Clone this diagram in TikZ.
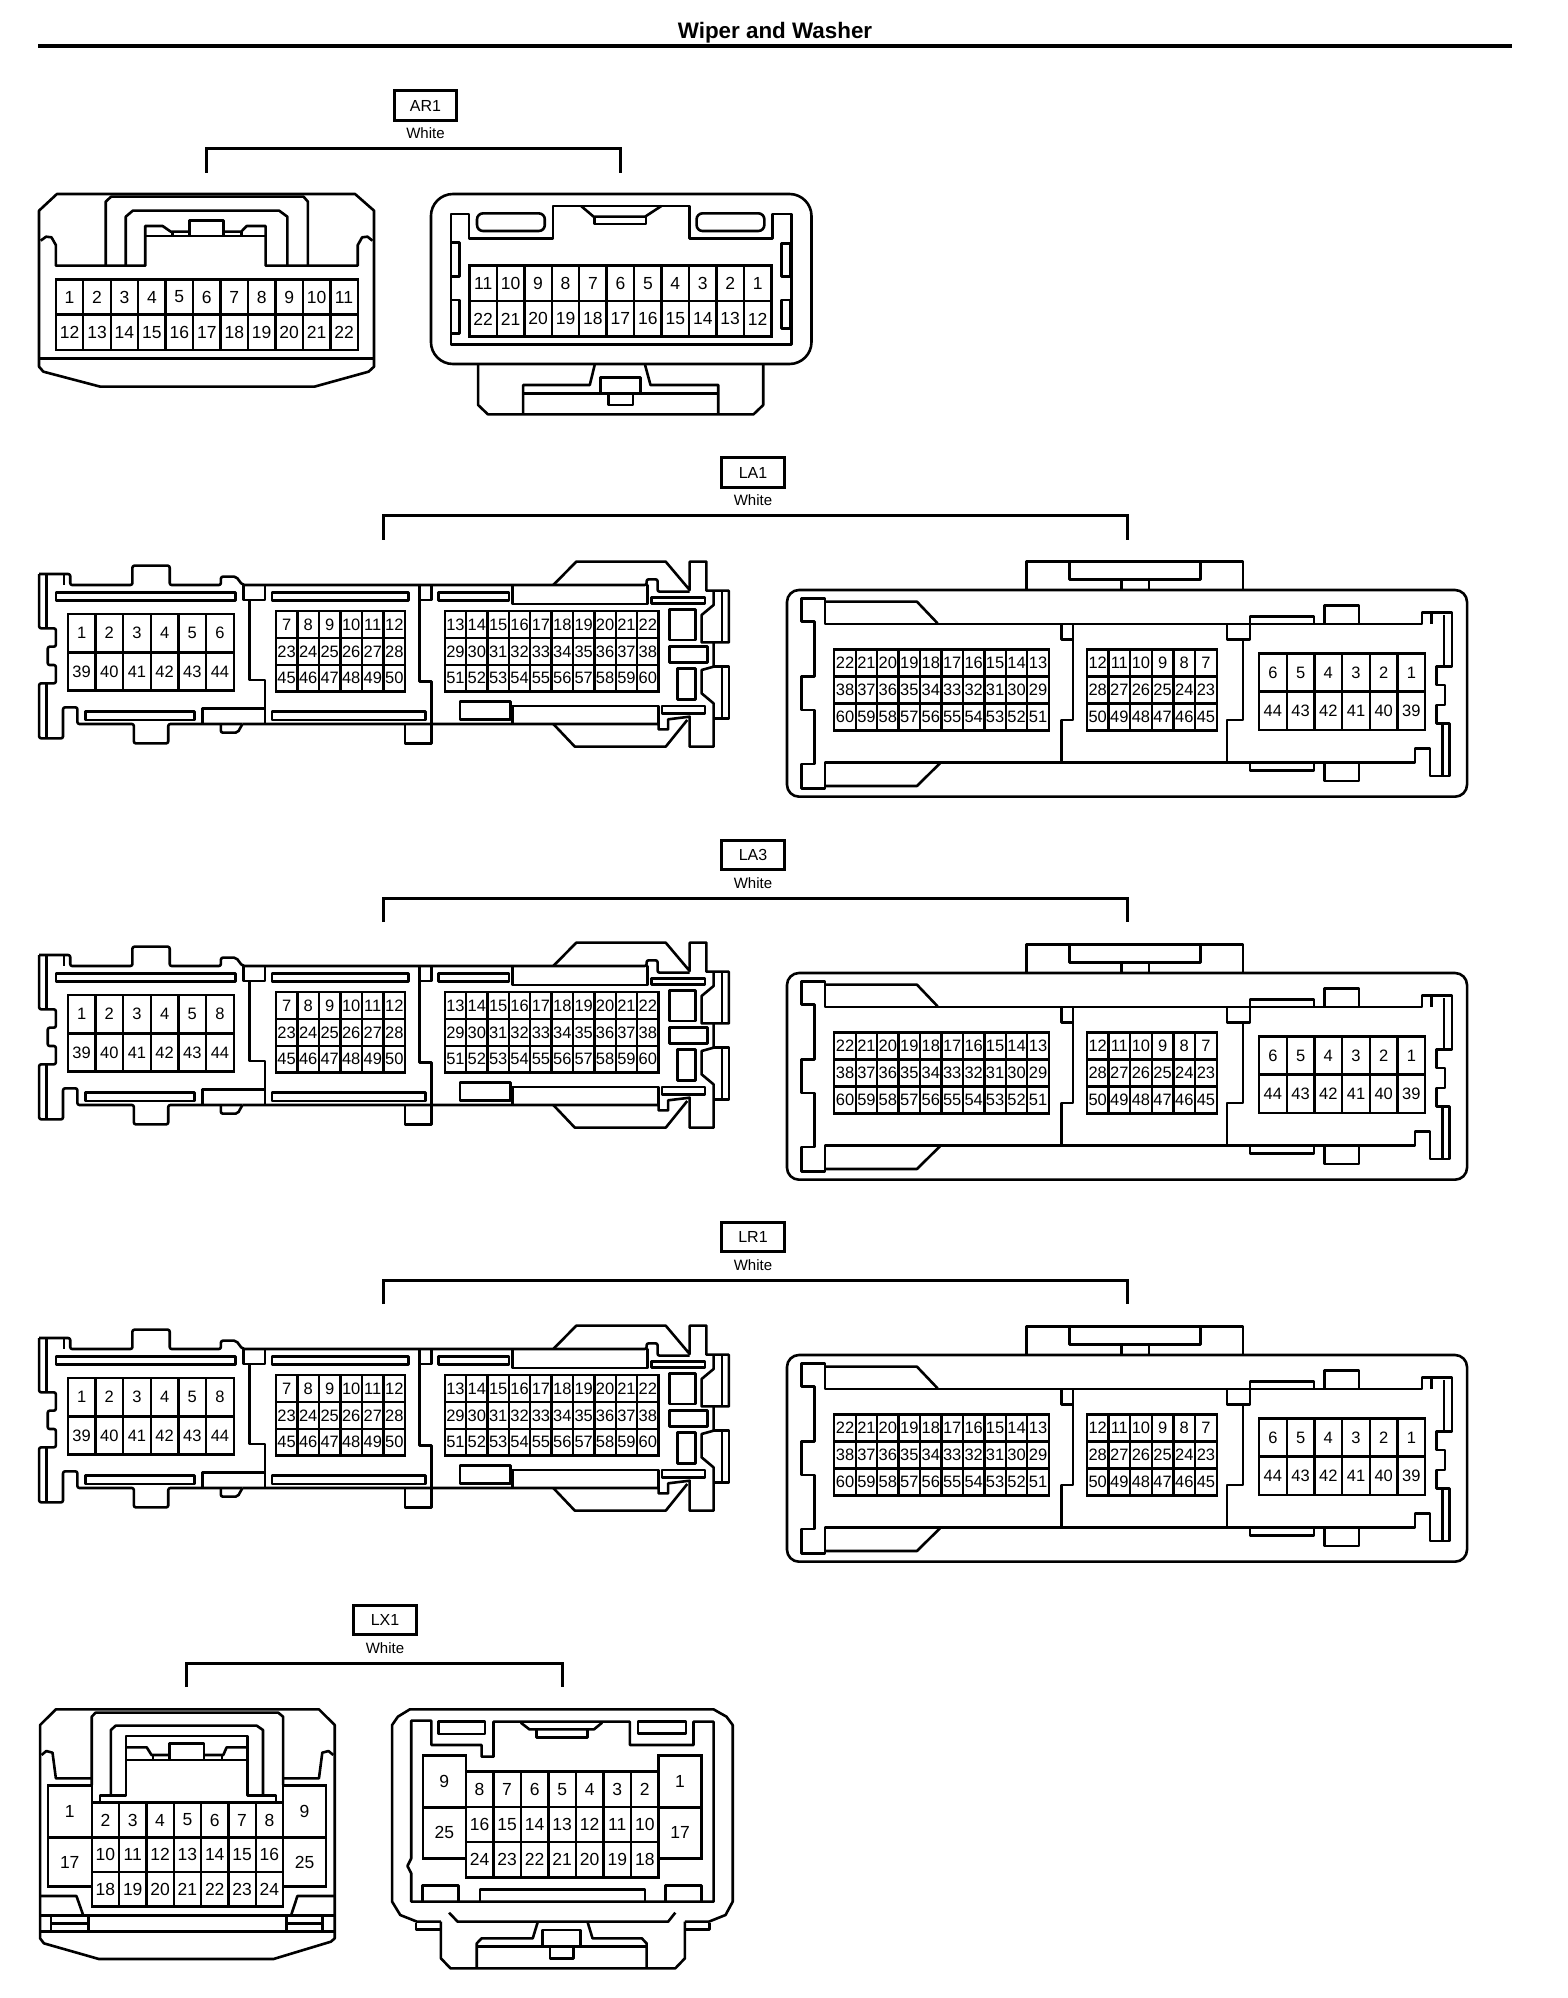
\documentclass[tikz,border=0pt]{standalone}
\usepackage{fontspec}
\setmainfont{Liberation Sans}
\tikzset{
  wire/.style={line width=2.6pt,line join=round,black},
  gridline/.style={line width=2.4pt,black},
  pinlabel/.style={inner sep=0pt,font=\fontsize{\pinsize}{\pinsize}\selectfont},
  tagbox/.style={draw,line width=2.6pt,minimum width=62.5pt,minimum height=29.5pt,inner sep=0pt,font=\fontsize{16}{16}\selectfont},
  tagtext/.style={inner sep=0pt,font=\fontsize{15}{15}\selectfont},
  bracket/.style={line width=3pt,line join=miter,black},
  zoneA/.style={x=0.54209pt,y=-0.33333pt},
  zoneB/.style={x=0.47832pt,y=-0.33333pt},
  zoneC/.style={x=0.45918pt,y=-0.33333pt},
}
\def\pinsize{16.5}
% grid: prefix, x0,y0,x1,y1, cols, rows, labels
\newcommand{\pingrid}[8]{%
  \draw[gridline] (#2,#3) rectangle (#4,#5);
  \pgfmathtruncatemacro\gridm{#6-1}
  \pgfmathtruncatemacro\gridn{#7-1}
  \foreach \gk in {1,...,\gridm}{
    \pgfmathsetmacro\gx{#2+\gk*(#4-#2)/#6}
    \draw[gridline] (\gx,#3) -- (\gx,#5);
  }
  \foreach \gk in {1,...,\gridn}{
    \pgfmathsetmacro\gy{#3+\gk*(#5-#3)/#7}
    \draw[gridline] (#2,\gy) -- (#4,\gy);
  }
  \foreach \lbl [count=\idx from 0] in {#8}{
    \pgfmathtruncatemacro\pc{mod(\idx,#6)}
    \pgfmathtruncatemacro\pr{int(\idx/#6)}
    \pgfmathsetmacro\cx{#2+(\pc+0.5)*(#4-#2)/#6}
    \pgfmathsetmacro\cy{#3+(\pr+0.5)*(#5-#3)/#7}
    \node[pinlabel] (#1-\lbl) at (\cx,\cy) {\lbl};
  }
}
\newcommand{\pincell}[6]{%
  \draw[gridline] (#2,#3) rectangle (#4,#5);
  \node[pinlabel] (#1-#6) at ({(#2+#4)/2},{(#3+#5)/2}) {#6};
}
% header: name, cx, cy, xl, xr
\newcommand{\header}[5]{%
  \node[tagbox] (#1-tag) at (#2,#3) {#1};
  \node[tagtext] (#1-col) at (#2,#3+28) {White};
  \coordinate (#1-a) at (#4,#3+67);
  \coordinate (#1-b) at (#4,#3+43);
  \coordinate (#1-c) at (#5,#3+43);
  \coordinate (#1-d) at (#5,#3+67);
  \draw[bracket] (#1-a) -- (#1-b) -- (#1-c) -- (#1-d);
}
% long connector, mating face: prefix, y offset, label of sixth pin
\newcommand{\longleft}[3]{%
\begin{scope}[zoneB,xshift=20pt,yshift=-450pt-#2pt]
\draw[wire,rounded corners=2pt] (40,372)--(105,372)--(105,405)--(235,405)--(235,347)--(313,347)--(313,405)--(420,405)--(420,380)--(452,380)--(465,405)--(1310,405)--(1310,388)--(1333,388)--(1333,425)--(1400,425);
\draw[wire] (1115,405)--(1163,335)--(1350,335)--(1400,420)--(1400,335)--(1435,335)--(1435,422)--(1482,422)--(1482,577)--(1425,577)--(1425,495)--(1450,465)--(1450,425);
\draw[wire] (1450,577)--(1450,650)--(1425,660)--(1425,730)--(1450,760)--(1450,890)--(1400,890)--(1400,800)--(1355,808)--(1355,838)--(1335,838)--(1335,822)--(465,822);
\draw[wire] (1115,822)--(1160,890)--(1350,890)--(1395,810);
\draw[wire] (1450,650)--(1482,650)--(1482,805)--(1450,805);
\draw[wire] (1468,425)--(1468,577) (1468,650)--(1468,805);
\draw[wire] (805,822)--(805,880)--(860,880)--(860,695)--(835,695)--(835,405);
\draw[wire] (860,405)--(860,450)--(835,450);
\draw[wire,rounded corners=2pt] (465,822)--(310,822)--(310,880)--(238,880)--(238,822)--(120,822)--(120,772)--(90,772)--(90,865)--(40,865)--(40,700)--(75,700)--(75,645)--(58,645)--(58,590)--(75,590)--(75,535)--(40,535)--(40,372);
\draw[wire] (55,372)--(55,535) (55,700)--(55,865) (92,372)--(92,405);
\draw[wire,rounded corners=2pt] (420,822)--(420,848)--(455,848)--(465,822);
\draw[wire] (480,450)--(480,690)--(512,690)--(512,822);
\draw[wire] (467,405)--(467,450)--(512,450)--(512,405);
\draw[wire] (75,427) rectangle (450,452);
\draw[wire] (527,427) rectangle (812,452);
\draw[wire] (875,427) rectangle (1022,452);
\draw[wire] (1030,405) rectangle (1312,462);
\draw[wire] (1320,442) rectangle (1432,460);
\draw[wire] (137,785) rectangle (365,810);
\draw[wire] (527,785) rectangle (848,810);
\draw[wire] (920,755) rectangle (1025,808);
\draw[wire] (1030,768) rectangle (1335,822);
\draw[wire] (1342,768) rectangle (1432,790);
\draw[wire] (382,822)--(382,775)--(512,775);
\draw[wire] (1358,478) rectangle (1412,570);
\draw[wire] (1358,590) rectangle (1437,637);
\draw[wire] (1375,655) rectangle (1412,748);
\pingrid{#1La}{100}{492}{447}{722}{6}{2}{1,2,3,4,5,#3,39,40,41,42,43,44}
\pingrid{#1Lb}{535}{483}{805}{725}{6}{3}{7,8,9,10,11,12,23,24,25,26,27,28,45,46,47,48,49,50}
\pingrid{#1Lc}{888}{483}{1335}{725}{10}{3}{13,14,15,16,17,18,19,20,21,22,29,30,31,32,33,34,35,36,37,38,51,52,53,54,55,56,57,58,59,60}
\end{scope}
}
\newcommand{\longright}[2]{%
\begin{scope}[zoneC,xshift=770pt,yshift=-540pt-#2pt]
\draw[wire,rounded corners=12pt] (37,150) rectangle (1518,770);
\draw[wire] (558,150)--(558,65)--(1030,65)--(1030,150);
\draw[wire] (652,65)--(652,118)--(938,118)--(938,65);
\draw[wire] (765,118)--(765,150) (825,118)--(825,150);
\draw[wire] (68,175)--(120,175)--(120,252)--(1420,252)--(1420,218)--(1485,218)--(1485,380)--(1452,380)--(1452,435)--(1470,435)--(1470,495)--(1452,495)--(1452,550)--(1480,550)--(1480,708)--(1437,708)--(1437,625)--(1405,625)--(1405,668)--(120,668)--(120,745)--(68,745)--(68,672)--(97,672)--(97,510)--(68,510)--(68,410)--(97,410)--(97,245)--(68,245)--cycle;
\draw[wire] (120,185)--(320,185)--(365,250) (120,738)--(320,738)--(370,670);
\draw[wire] (660,252)--(660,540)--(635,540)--(635,668);
\draw[wire] (635,252)--(635,298)--(660,298);
\draw[wire] (1030,298)--(1030,540)--(995,540)--(995,668);
\draw[wire] (995,252)--(995,298)--(1045,298)--(1045,230)--(1185,230)--(1185,252);
\draw[wire] (1208,252)--(1208,197)--(1283,197)--(1283,252);
\draw[wire] (1045,668)--(1045,692)--(1185,692)--(1185,668);
\draw[wire] (1208,668)--(1208,723)--(1283,723)--(1283,668);
\draw[wire] (1468,225)--(1468,380) (1465,550)--(1465,708) (1440,218)--(1440,252);
\pingrid{#1Ra}{140}{328}{607}{572}{10}{3}{22,21,20,19,18,17,16,15,14,13,38,37,36,35,34,33,32,31,30,29,60,59,58,57,56,55,54,53,52,51}
\pingrid{#1Rb}{690}{328}{973}{572}{6}{3}{12,11,10,9,8,7,28,27,26,25,24,23,50,49,48,47,46,45}
\pingrid{#1Rc}{1065}{340}{1427}{570}{6}{2}{6,5,4,3,2,1,44,43,42,41,40,39}
\end{scope}
}
\begin{document}
\begin{tikzpicture}[x=1pt,y=-1pt]
\useasboundingbox (0,0) rectangle (1568,1998);
\fill[white] (0,0) rectangle (1568,1998);
\node[inner sep=0pt,font=\bfseries\fontsize{22.4}{22.4}\selectfont] (title) at (775,32.5) {Wiper and Washer};
\coordinate (ruleL) at (38,46);
\coordinate (ruleR) at (1512,46);
\draw[line width=4.3pt] (ruleL) -- (ruleR);
%
\header{AR1}{425.5}{105.5}{206}{620}
\header{LA1}{753}{472.5}{383}{1127}
\header{LA3}{753}{855}{383}{1127}
\header{LR1}{753}{1237}{383}{1127}
\header{LX1}{385}{1620}{186.5}{562}
%
\def\pinsize{17.5}
\begin{scope}[zoneA]
\draw[wire] (105,582)--(655,582)--(690,632)--(690,1100)--(680,1115)--(580,1160)--(185,1160)--(80,1115)--(72,1100)--(72,632)--cycle;
\draw[wire] (72,1075)--(690,1075);
\draw[wire] (75,722)--(85,710)--(95,712)--(103,735)--(103,797)--(268,797)--(268,678)--(300,678)--(315,695)--(350,695);
\draw[wire] (268,708)--(490,708);
\draw[wire] (350,708)--(350,662)--(412,662)--(412,708);
\draw[wire] (412,695)--(445,695)--(455,678)--(490,678)--(490,797)--(660,797)--(660,735)--(668,712)--(678,710)--(687,722);
\draw[wire] (318,695)--(318,708) (445,695)--(445,708);
\draw[wire] (195,797)--(195,605)--(205,590)--(560,590)--(568,605)--(568,797);
\draw[wire] (232,797)--(232,650)--(245,632)--(515,632)--(530,650)--(530,797);
\pingrid{AR1La}{103}{838}{660}{1050}{11}{2}{1,2,3,4,5,6,7,8,9,10,11,12,13,14,15,16,17,18,19,20,21,22}
%
\draw[wire,rounded corners=22pt] (795,582) rectangle (1497,1092);
\draw[wire] (832,642)--(865,642)--(865,715)--(1020,715)--(1020,618)--(1272,618)--(1272,715)--(1425,715)--(1425,642)--(1460,642)--(1460,1033)--(832,1033)--cycle;
\draw[wire,rounded corners=6pt] (880,640) rectangle (1005,693);
\draw[wire,rounded corners=6pt] (1285,640) rectangle (1410,693);
\draw[wire] (1072,618)--(1095,650)--(1190,650)--(1220,618);
\draw[wire] (1097,650)--(1097,672)--(1192,672)--(1192,650);
\draw[wire] (832,728) rectangle (848,830);
\draw[wire] (832,900) rectangle (848,1000);
\draw[wire] (1442,730) rectangle (1458,830);
\draw[wire] (1442,900) rectangle (1458,985);
\pingrid{AR1Ra}{866}{797}{1423}{1010}{11}{2}{11,10,9,8,7,6,5,4,3,2,1,22,21,20,19,18,17,16,15,14,13,12}
\draw[wire] (882,1092)--(882,1215)--(900,1243)--(1390,1243)--(1408,1215)--(1408,1092);
\draw[wire] (1097,1095)--(1088,1155)--(965,1155)--(965,1243);
\draw[wire] (965,1180)--(1325,1180);
\draw[wire] (1190,1095)--(1200,1155)--(1325,1155)--(1325,1243);
\draw[wire] (1108,1132) rectangle (1182,1180);
\draw[wire] (1122,1180)--(1122,1215)--(1168,1215)--(1168,1180);
\end{scope}
%
\def\pinsize{16.5}
\longleft{LA1}{0}{6}
\longright{LA1}{0}
\longleft{LA3}{381}{8}
\longright{LA3}{383}
\longleft{LR1}{764}{8}
\longright{LR1}{765}
%
\def\pinsize{17.5}
\begin{scope}[zoneB,xshift=20pt,yshift=-1610pt]
\draw[wire] (75,298)--(625,298)--(658,345)--(658,985)--(650,995)--(530,1047)--(165,1047)--(50,1000)--(42,985)--(42,345)--cycle;
\draw[wire] (45,435)--(55,423)--(68,428)--(75,505)--(150,505);
\draw[wire] (150,525)--(150,320)--(158,308)--(540,308)--(550,320)--(550,525);
\draw[wire] (550,505)--(625,505)--(632,428)--(645,423)--(655,435);
\draw[wire] (190,555)--(190,360)--(200,347)--(495,347)--(508,360)--(508,555);
\draw[wire] (167,578)--(167,557)--(222,557)--(222,378)--(475,378)--(475,557)--(535,557)--(535,578);
\draw[wire] (222,450)--(475,450);
\draw[wire] (222,412)--(265,412)--(275,435)--(312,435);
\draw[wire] (385,435)--(425,435)--(432,412)--(475,412);
\draw[wire] (312,450)--(312,400)--(385,400)--(385,450);
\draw[wire] (278,435)--(278,450) (422,435)--(422,450);
\pincell{LX1La}{58}{527}{150}{683}{1}
\pincell{LX1La}{58}{683}{150}{830}{17}
\pincell{LX1La}{550}{527}{640}{683}{9}
\pincell{LX1La}{550}{683}{640}{830}{25}
\pingrid{LX1Lb}{150}{578}{550}{890}{7}{3}{2,3,4,5,6,7,8,10,11,12,13,14,15,16,18,19,20,21,22,23,24}
\draw[wire] (42,858)--(118,858)--(132,915);
\draw[wire] (658,858)--(580,858)--(567,915);
\draw[wire] (42,917)--(658,917) (42,965)--(658,965);
\draw[wire] (65,917)--(65,965) (143,917)--(143,965) (65,940)--(140,940);
\draw[wire] (557,917)--(557,965) (632,917)--(632,965) (557,940)--(632,940);
%
\draw[wire] (880,935)--(830,935)--(795,915)--(778,875)--(778,345)--(790,320)--(815,298)--(1450,298)--(1477,320)--(1490,345)--(1490,875)--(1475,915)--(1440,935)--(1390,935);
\draw[wire] (828,938)--(828,958)--(880,958);
\draw[wire] (1390,958)--(1442,958)--(1442,938);
\draw[wire] (880,935)--(880,1045)--(900,1075)--(1370,1075)--(1390,1045)--(1390,935);
\draw[wire] (897,908)--(915,935)--(1355,935)--(1370,908);
\draw[wire] (818,332)--(860,332)--(860,405)--(965,405)--(965,440)--(990,440)--(990,335)--(1275,335)--(1275,405)--(1408,405)--(1408,335)--(1450,335)--(1450,875)--(818,875)--(818,790)--(810,768)--(818,745)--cycle;
\draw[wire] (875,335) rectangle (972,372);
\draw[wire] (1292,335) rectangle (1392,370);
\draw[wire] (1047,338)--(1065,358)--(1200,358)--(1217,338);
\draw[wire] (1080,358)--(1080,382)--(1187,382)--(1187,358);
\pincell{LX1Ra}{842}{437}{932}{592}{9}
\pincell{LX1Ra}{842}{592}{932}{745}{25}
\pincell{LX1Ra}{1335}{437}{1425}{592}{1}
\pincell{LX1Ra}{1335}{592}{1425}{745}{17}
\pingrid{LX1Rb}{932}{485}{1335}{802}{7}{3}{8,7,6,5,4,3,2,16,15,14,13,12,11,10,24,23,22,21,20,19,18}
\draw[wire] (842,875)--(842,827)--(917,827)--(917,875);
\draw[wire] (962,875)--(962,838)--(1307,838)--(1307,875);
\draw[wire] (1350,875)--(1350,827)--(1425,827)--(1425,875);
\draw[wire] (1082,938)--(1072,985)--(965,985)--(955,1000)--(955,1075);
\draw[wire] (955,1010)--(1310,1010);
\draw[wire] (1187,938)--(1197,985)--(1300,985)--(1310,1000)--(1310,1075);
\draw[wire] (1092,960) rectangle (1172,1010);
\draw[wire] (1108,1010)--(1108,1045)--(1157,1045)--(1157,1010);
\end{scope}
\end{tikzpicture}
\end{document}
